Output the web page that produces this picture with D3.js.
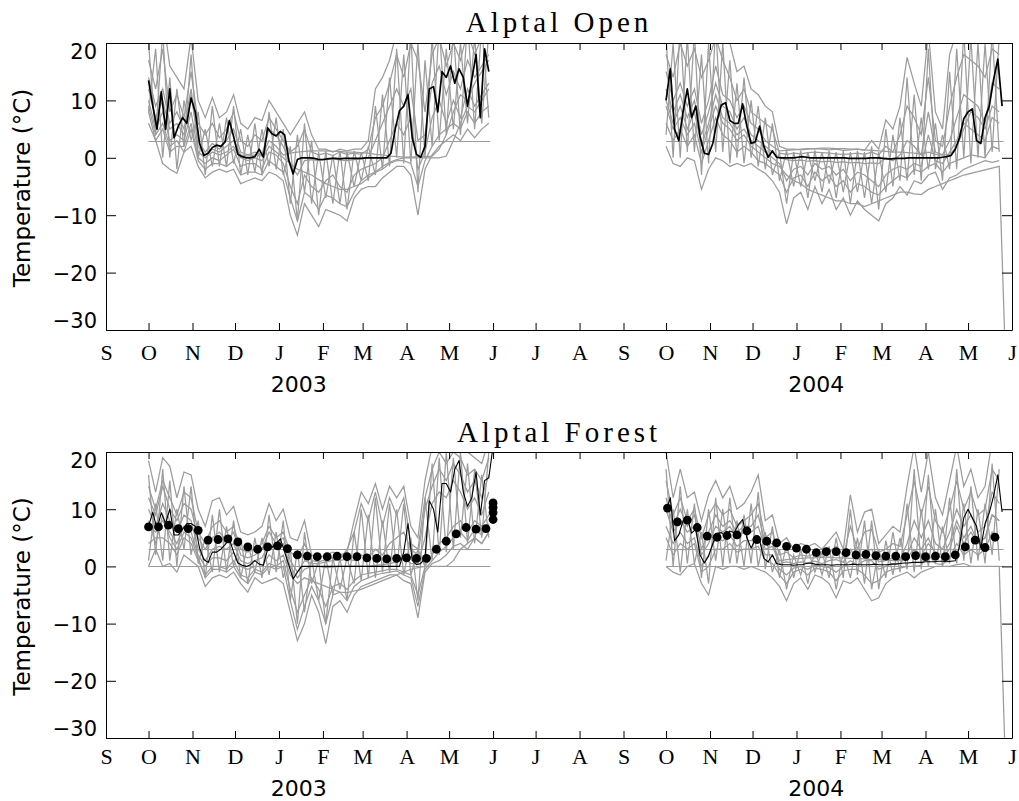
<!DOCTYPE html>
<meta charset="utf-8">
<script src="https://d3js.org/d3.v7.min.js"></script>
<style>
  body { margin: 0; background: #fff; }
  .num { font-family: "DejaVu Sans", sans-serif; }
  .month { font-family: "Liberation Serif", serif; }
</style>
<div id="chart"></div>
<script>

// ---------------- data ----------------
var monthLabels = ["S","O","N","D","J","F","M","A","M","J","J","A","S","O","N","D","J","F","M","A","M","J"];
var yTickValues = [-30, -20, -10, 0, 10, 20];
var yearLabels = ["2003", "2004"];
var yearCentres = ["2003-01-15", "2004-01-15"];
var seasonStarts = ["2002-10-01", "2003-10-01"];
var seasonEnds = ["2003-05-30", "2004-05-26"];
var openThresholds = [3];
var forestThresholds = [0, 3];
var meanStep = 3, grayStep = 5, dotStep = 7;   // days between samples

// black line: mean temperature, one value every 3 days
var openMean2003 = [13.5,9,5,11.5,5,12,3.5,5.5,7,6,
  10.4,8,2.5,0.4,0.8,1.8,2.2,2,2.8,6.5,
  3.7,0.6,0.2,0,0,0.2,1.5,0.1,5.2,4.2,
  3.8,4.6,4,-0.5,-2.8,-0.3,0,0,0,-0.1,
  -0.3,-0.3,-0.2,-0.1,-0.1,-0.2,-0.1,-0.1,-0.1,-0.1,
  -0.1,0,0,0,0,0,0,0.8,5,8.2,
  9,11,3.5,0.6,0.1,2,12,12.4,8,15,
  14,16,13,15.5,14,9,13.6,18,7,19,15];
var openMean2004 = [10,15.5,5,3,8,12,7,9,3.7,0.8,
  0.6,2.5,6.5,9.2,9.6,6.5,6,6,9.4,5.5,
  2.5,2.8,5.5,2,0.1,1.2,0.1,0,0,0,
  0,0.1,0.2,0.1,0,0,0,0,0,0,
  0,0,0,-0.1,-0.1,-0.1,-0.1,-0.1,0,0,
  0,-0.1,-0.2,-0.2,-0.1,-0.1,-0.1,0,0,0,
  0,0,0,0,0,0.1,0.2,0.4,1.5,3.5,
  6.8,8,8.5,3,2.5,7,9,13.6,17.2,9];
var forestMean2003 = [7,9.5,6.5,9.4,7.5,10,5.5,5.5,6.5,7.5,
  7.5,7,3.2,1.2,0.7,2.5,2.5,3,3.8,4.8,
  2.5,0.6,0.2,0,0.3,1,0.4,0.2,3,3.3,
  4,4.8,2.5,0.2,-2.2,-1,0,0,0,0,
  0,0,0,0,0,0,0,0,0,0,
  0,0,0,0,0,0,0,0,0,0,
  2.5,7.5,1,0.3,0.5,1.5,11.5,10,6,14.5,
  14.5,13,17,18.5,13,10.5,12,16.5,9,15,15.5,21];
var forestMean2004 = [9.5,12,4.5,5.5,8,8.5,5.8,6.5,2,0.6,
  1.8,4,5.8,5.9,5.2,6.2,5.9,7.3,8.2,5,
  3.2,4.7,4.5,1.4,0.8,2,0.5,0.3,0.3,0.3,
  0.2,0.3,0.3,0.5,0.6,0.4,0.3,0.3,0.3,0.2,
  0.3,0.3,0.3,0.3,0.4,0.3,0.3,0.3,0.3,0.4,
  0.3,0.3,0.3,0.4,0.4,0.5,0.6,0.6,0.7,0.7,
  0.7,0.8,0.8,0.8,0.9,0.9,0.8,0.9,1,3.5,
  8.5,10,8.5,7,3.2,7.5,9.4,12.3,16,9.5];

// grey lines: individual sensors, one value every 5 days
var openGray2003 = [
  [24,22,25,16,14,12,21,10,7,10.5,7,8,11,6,5,7,6.5,10,8,6,4,6,8,4,1.5,1.5,1,1.5,1.2,1.5,1.5,3,12,14,17,22,21,25,23,20,24,26,22,25,23,27,24,26,25],
  [17,12,19,8,11,7,15,6,4,6,3.5,5,8,3,2,4,3,7,5,3,1,2,5,1,0.5,0.8,0.4,1,0.6,0.8,0.6,1.5,7,9,13,18,14,20,17,8,18,21,16,20,17,22,18,21,20],
  [12,7,10,5,6,4,11,3,1,2.5,1.5,3,5,1,0.5,1,0.5,5,4,2,-1,-3,-0.5,-0.3,-0.5,-0.3,-0.2,-0.4,-0.5,-0.3,-0.2,0,3,6,9,12,9,12,3,4,13,16,11,15,12,17,14,16,18],
  [8,3,5,1,2,2,6,0,-1,0,-0.5,0.5,1.5,-1.5,-1,-1,-2,1,0.5,-1,-5,-8,-3,-5,-6,-4,-3,-5,-6,-3,-2,-1.5,-1,0,3,6,4,7,-2,1,7,10,6,10,7,12,9,11,13],
  [6,3,-1,-2,-2.7,1,2,-1.5,-3.5,-2.5,-2,-2.5,-2,-4.5,-4,-3.5,-4,-2.5,-3,-4,-10,-13.5,-8,-10,-12,-9,-9.5,-10,-11,-7,-5.5,-5,-5,-3.5,-2.5,-1.5,-1.5,-3,-10,-2,0.5,2,3,4,3,5,3.5,5,6],
  [10,5,8,3,4,3,8,1,0,1,0.5,1,2,0,-0.5,0,-0.5,2,1,0,-1,-2,-2.5,-3,-3.8,-4.5,-5,-5.5,-5.5,-5,-4.5,-3.5,-2.5,-1.5,-0.8,-0.3,0,0,0,0,0,0,0.3,3,6,9,8,10,12],
  [14,9,12,6,8,5,12,2,0.5,1.5,1,2,3,0.5,0.3,0.5,0.3,3,2,0.5,0.8,1,1.1,1.2,1.2,1.2,1.1,1.1,1,1,0.9,0.8,0.6,0.5,0.3,0.2,0.1,0.1,0.2,0.2,0.3,1.5,4,8,11,10,13,15,17],
  [9,4,6,2,3,1,5,-0.5,-2,-1,-1,-1.5,-0.5,-3,-2.5,-2.5,-3,-0.5,-1.5,-2.5,-7,-11,-6,-7,-9,-6.5,-7,-8,-8.5,-6,-4,-3,-2.5,-2,-1,-0.5,-0.5,-1,-5,-0.5,2,4,5,6,5,8,6,8,9],
  [20,4,22,0,12,2,18,0,5,-1.5,6,-1.5,9,-3,4,-2.5,5,-1.5,7,-3,2,-11,6,-8,1,-7,0.5,-8,1,-5,1,-4,9,-2,14,0,18,-1,20,0,21,3,19,5,20,6,21,6,22],
  [8,19,0,14,-2,10,3,8,-3,9,-1.5,7,-1,5,-3,6,-3,8,-2,5,-8,4,-6,3,-10,1.2,-8,1.2,-9,1.2,-4,2,-3,11,-1.5,19,-1,22,-6,17,2,23,4,22,4,24,5,23,7]
];
var openGray2004 = [
  [24,22,26,23,25,21,24,26,23,20,15,16,12,11,9,8,2,1.5,1.5,1.4,1.5,1.6,1.5,1.4,1.5,1.3,1.4,1.5,1.3,3,1.5,6.6,5,9,17.5,13,9,22,8,5,18,22,25,24,23,22,25,24],
  [18,14,20,16,19,14,17,21,17,14,10,12,8,7,6,5,0.8,0.6,0.8,0.7,0.9,1,0.9,0.8,0.7,0.6,0.7,0.8,0.6,1,0.5,2,1,4,9,7,4,14,3,2,9,14,18,17,16,14,19,18],
  [12,8,11,7,10,4,8,13,9,8,5,7,4,3,2,1,0,-0.3,-0.5,-0.4,-0.6,-0.5,-0.7,-0.6,-0.8,-0.7,-0.9,-0.8,-1,-0.9,-1,0,-0.5,0.5,3,2,0.5,8,1,0.5,3,7,11,10,9,6,13,12],
  [6,3,5,2,4,-1,3,7,4,3,1,2,1,-0.5,-1,-2,-3,-6,-3.5,-3,-5,-2.5,-4,-3,-5,-4,-6,-4.5,-5,-6,-6.5,-5,-4,-3,-3.5,-2,-2.5,-1.5,-1,-2.5,-1,-0.5,0,0.5,0.3,0,2,1.5],
  [2,-1,-1.5,0,-0.5,-5.5,-2,0,-0.5,-1.5,-1,-1.5,-1,-2,-2.7,-4,-6,-11.5,-7,-6,-9,-5,-8,-5.5,-9,-7,-10,-7.5,-9,-10,-11,-8,-7,-5,-6.5,-4,-4.5,-3,-2.5,-5.5,-3.5,-3,-2,-1.5,-1,-0.5,-0.8,-0.5],
  [15,10,13,9,12,6,10,16,11,10,7,9,6,5,3,2,1.2,1.3,1.4,1.5,1.6,1.6,1.7,1.7,1.6,1.6,1.5,1.5,1.4,1.3,1.2,1.1,1,1,0.9,0.8,0.7,1,0.6,0.5,0.5,2,5,8,7,5,9,8],
  [9,5,7,4,6,1,5,9,6,5,3,4,2,1,0,-1,-1.5,-3,-4,-4.5,-5.5,-6,-6.5,-7,-7.5,-7.5,-8,-8,-8.5,-8,-7.5,-7,-6.5,-6,-6,-6.3,-6.4,-5.5,-5,-4.5,-4,-3.5,-3,-2.7,-2.4,-2.1,-1.8,-1.5,-40],
  [10,6,9,5,8,2,6,11,7,6,4,5,3,2,1,0,-1,-4,-2,-1.5,-3,-1,-2,-1.5,-3,-2,-4,-2.5,-3,-4,-5,-3,-2,-1.5,-2,-1,-1.5,4,-0.5,-1,1,3,6,5,4,3,7,6],
  [21,0,23,1,22,-3,20,1,20,-1,13,-1,10,-1.5,7,-3,1,-8,1,-5,1,-4,1,-4.5,1,-6,1,-6,1,-8,1,-6,4,-4,14,-3,7,-2,6,-4,15,-2,22,-1,20,0,22,1],
  [4,20,0,21,1,18,-1,23,1,17,0,14,0,9,-2,6,-4,1.2,-5,1.2,-7,1.3,-6,1.2,-7,1.2,-8,1.2,-7,2,-9,5,-5,7,-4,11,-4,19,-2,4,-2,19,0,21,0,20,1,21]
];
var forestGray2003 = [
  [18.5,13,19,17.5,12,16.5,16,10,7,11.5,12,9,10.5,6,5.5,6,7,11,8,10,5,4.5,8,2,1.5,2,2.5,2,2.5,8,13,11,14.5,10,14,12,14,7,5,15,21,22,23,21,22,20,19,18,22],
  [14,10,15,12,9,13,12,6,4,7,8,6,7,3,2.5,3,4,7,5,6,2.5,1.5,4,1,0.8,1.2,1.5,1,1.3,1,2,1.5,3,2,4,5,6,3,2,10,14,17,15,18,16,13,15,12,16],
  [10,7,11,8,6,9,8,3,1,3,3.5,3,4,1,0.5,1,1.5,4,3,4,0,-2,-0.5,0,0,-0.2,-0.1,0,0,0,0,0,0.2,0.3,0.5,0.8,1.5,0.5,0.5,5,11,13,12,15,13,10,12,9,13],
  [4,5,5,4,2,5,4,1,-1.5,0,0,-0.5,1,-1.5,-2,-0.5,-1,0.5,0,1,-4,-8,-5,-2,-4,-7,-3.5,-3,-4,-2.5,-1.5,-1.2,-1,-0.8,-0.5,-0.5,-1,-1.5,-5,0,2,4,5,7,8,6,8,7,9],
  [0,3,0,0.5,-1,2,1,0,-3.5,-2,-1.5,-2,-1,-3,-4.5,-2,-3,-2.5,-2,-3,-8,-13,-10,-5,-8,-13.5,-7,-6,-8,-5,-3.5,-3,-2.5,-2,-1.5,-1.5,-2.5,-3,-9,-1,0.5,1,2,3.5,4,3,5,4,6],
  [7,6,8,6,4,7,6,2,0,1.5,1.5,1,2.5,0,-0.5,0,0,2,1,2,-1.5,-3,-2,-2.5,-3,-3.5,-4,-4.5,-4.6,-4.3,-4,-3.5,-3,-2.5,-2,-1.5,-1,-0.5,-0.2,0,0,0,0,1,3,4,5,4,6],
  [12,9,14,10,8,11,10,5,3,5,6,4.5,6,2,1.5,2,3,6,4,5,1,-1,1,0.5,0.5,0.8,1,1.2,3,6,11,8,13,7,12,9,12,4,3,12,17,20,18,20,19,16,17,15,19],
  [8,4,9,5,3,6,5,1.5,-2,-0.5,-0.5,-1,0,-2,-3,-1,-1.5,0,-0.5,0,-6,-11,-7,-3.5,-6,-10,-5,-4.5,-6,-3.5,-2.5,-2,-1.5,-1.2,-1,-0.8,-1.5,-2,-7,-0.5,1,2.5,3.5,5,6,4.5,6.5,5.5,7.5],
  [16,2,17,1,10,3,14,0.5,5,-1,10,-1,8,-2,4,-1,5,-1.5,6,-2,3,-10,6,-3,1,-10,1.5,-4,1.5,-3,10,-2,12,-1,11,-0.5,11,-1.5,3,0,18,2,20,3,20,4,17,5,20],
  [1,11,1,15,0,14,2,8,-2,9,-1,7,0,5,-3,5,-2,9,-1,8,-6,3,-8,1.5,-6,1.5,-5,1.5,-6,6,-2.5,9,-2,8,-1,10,-1.5,5,-6,12,1,19,2.5,19,5,18,4,16,5]
];
var forestGray2004 = [
  [20,12,17,12,13,8,12.5,15,12,14,10,11,13,16,8,9,4,5,3,4,3.5,4,3,4.5,6,3,12.5,6,9.5,10,4,5.5,7,6,14,21,13,20,12,9,15,21,14,17,12,14,22,20],
  [15,9,12,8,10,5,9,11,9,10,7,8,9,11,5,6,2,2.5,1.5,2,1.8,2.2,1.5,2.5,3.5,1.8,7,3,6,6.5,2.5,3,4,3.5,9,15,9,14,8,6,10,15,10,13,9,10,17,15],
  [10,6,8,6,7,2,4,7,6,7,5,6,6,7,3,3.5,0.5,0.8,0.5,0.8,0.6,0.9,0.5,1,1.2,0.7,3,1.2,2.5,3,0.8,1,1.5,1.2,4,8,5,8,4,3,6,10,7,9,6,7,13,11],
  [5,2,4,3,4,-1,0,3,3,4,2.5,3,3,3.5,1,0.5,-1.5,-3,-1,-0.5,-1.5,-0.3,-0.5,-1,-2.5,-0.8,-0.5,-0.5,-1.5,-3,-2.5,-1,-0.5,-0.3,0,0,0.2,2,0.5,0.3,1.5,4,2,3,2,3,6,5],
  [0,-1,-1.5,0,0.5,-3,-5,0,-0.5,0,0,-0.5,0,-0.5,-1,-2,-3.5,-6,-3,-2,-4,-1.5,-2,-3,-5.5,-2.5,-3,-2,-4,-6,-5.5,-3,-2,-1.5,-1,-2,-1,-0.5,0,0,0,0.3,0.5,0,0,0,0,0,-40],
  [12,7,10,7,9,3,6,9,7,8,6,7,7,9,4,4,1,1.2,1.3,1.4,1.5,1.5,1.6,1.6,1.5,1.5,1.4,1.4,1.3,1.2,1.2,1.1,1,1,1.5,3,2,4,2.5,2,4,8,5,7,4,5,9,8],
  [7,4,6,4,5,0,2,5,4.5,5.5,3.5,4.5,4.5,5,2,2,-0.5,-1.5,-0.3,0,-0.5,0.2,0,-0.2,-1,0,1,0.3,1,1,-0.5,0,0.5,0.5,2,5,3,5,2,1.5,3,7,4,6,4,5,9,8],
  [17,0,14,0.5,11,-2,10,1,10,0.5,8,0,11,0,6,-1,3,-4,2,-1.5,3,-1,2.5,-2,5,-2,10,-1.5,8,-4,3,-2,6,-1,11,-1,10,0,10,0,12,0.5,11,0.5,10,0.5,18,1],
  [1,10,-1,10,0.5,6,-3,12,0,12,0.5,9,0.5,13,-0.5,7,-2,4,-2,3,-3,3,-1.5,3.5,-4,2.5,-2,5,-3,8,-4,4.5,-1.5,5,-0.5,17,-0.5,16,0.5,7,0.5,17,1,14,1,11,2,17]
];

// dots: weekly values in the forest
var forestDotStarts = ["2002-10-01", "2003-10-02"];
var forestDots2003 = [6.9,6.9,7.2,6.6,6.6,6.3,4.6,4.7,4.8,4.3,
  3.4,3.0,3.4,3.6,3.1,2.0,1.8,1.7,1.7,1.8,
  1.7,1.7,1.5,1.4,1.3,1.4,1.5,1.4,1.4,3.0,
  4.4,5.7,6.8,6.5,6.6];
var forestDots2004 = [10.2,7.8,8.1,6.8,5.3,5.1,5.4,5.5,6.2,4.7,
  4.4,4.1,3.5,3.2,3.0,2.4,2.6,2.6,2.4,2.0,
  2.1,1.9,1.8,1.8,1.7,1.9,1.7,1.8,1.7,2.0,
  3.4,4.6,3.3,5.1];
var forestDotsExtraDate = "2003-06-01";
var forestDotsExtra = [11.1, 10.3, 9.4, 8.2];

// ---------------- drawing ----------------
var width = 1019, height = 801;
var left = 106, right = 1012;
var parse = d3.utcParse("%Y-%m-%d");

var x = d3.scaleUtc()
  .domain([parse("2002-09-01"), parse("2004-06-01")])
  .range([left, right]);

var monthTicks = d3.utcMonth.range(parse("2002-09-01"), parse("2004-06-02"));

var svg = d3.select("#chart").append("svg")
  .attr("width", width)
  .attr("height", height);

var panels = [
  {title: "Alptal Open", top: 43, bottom: 330, titleY: 32, monthY: 30, yearY: 62,
   gray: [openGray2003, openGray2004], mean: [openMean2003, openMean2004],
   thresholds: openThresholds, meanWidth: 1.7, dots: null},
  {title: "Alptal Forest", top: 452, bottom: 738, titleY: 442, monthY: 26, yearY: 58,
   gray: [forestGray2003, forestGray2004], mean: [forestMean2003, forestMean2004],
   thresholds: forestThresholds, meanWidth: 1.1,
   dots: [forestDots2003, forestDots2004]}
];

function seriesLine(y, start, step) {
  return d3.line()
    .x(function(d, i) { return x(d3.utcDay.offset(start, i * step)); })
    .y(function(d) { return y(d); });
}

panels.forEach(function(p, idx) {
  var y = d3.scaleLinear().domain([-30, 20]).range([p.bottom, p.top]);

  svg.append("clipPath").attr("id", "clip" + idx)
    .append("rect")
    .attr("x", left).attr("y", p.top)
    .attr("width", right - left).attr("height", p.bottom - p.top);

  var plot = svg.append("g").attr("clip-path", "url(#clip" + idx + ")");

  // grey sensor lines
  p.gray.forEach(function(season, s) {
    var start = parse(seasonStarts[s]);
    plot.append("g").selectAll("path")
      .data(season)
      .join("path")
      .attr("d", function(d) { return seriesLine(y, start, grayStep)(d); })
      .attr("fill", "none")
      .attr("stroke", "#9c9c9c")
      .attr("stroke-width", 1.25);
  });

  // threshold lines
  p.thresholds.forEach(function(t) {
    seasonStarts.forEach(function(st, s) {
      plot.append("line")
        .attr("x1", x(parse(st))).attr("x2", x(parse(seasonEnds[s])))
        .attr("y1", Math.round(y(t)) + 0.5).attr("y2", Math.round(y(t)) + 0.5)
        .attr("stroke", "#9c9c9c")
        .attr("stroke-width", 1);
    });
  });

  // mean line
  p.mean.forEach(function(series, s) {
    plot.append("path")
      .attr("d", seriesLine(y, parse(seasonStarts[s]), meanStep)(series))
      .attr("fill", "none")
      .attr("stroke", "#000")
      .attr("stroke-width", p.meanWidth)
      .attr("stroke-linejoin", "round");
  });

  // dots
  if (p.dots) {
    p.dots.forEach(function(series, s) {
      var start = parse(forestDotStarts[s]);
      plot.append("g").selectAll("circle")
        .data(series)
        .join("circle")
        .attr("cx", function(d, i) { return x(d3.utcDay.offset(start, i * dotStep)); })
        .attr("cy", function(d) { return y(d); })
        .attr("r", 4.4)
        .attr("fill", "#000");
    });
    plot.append("g").selectAll("circle")
      .data(forestDotsExtra)
      .join("circle")
      .attr("cx", x(parse(forestDotsExtraDate)))
      .attr("cy", function(d) { return y(d); })
      .attr("r", 4.4)
      .attr("fill", "#000");
  }

  // axes
  var bottomAxis = svg.append("g")
    .attr("transform", "translate(0," + p.bottom + ")")
    .call(d3.axisBottom(x).tickValues(monthTicks).tickSize(-7).tickSizeOuter(0)
      .tickFormat(function(d, i) { return monthLabels[i]; }));
  bottomAxis.selectAll("text")
    .attr("class", "month")
    .attr("y", p.monthY).attr("dy", null)
    .style("font-size", "22px").attr("fill", "#000");

  svg.append("g")
    .attr("transform", "translate(0," + p.top + ")")
    .call(d3.axisTop(x).tickValues(monthTicks).tickSize(-7).tickSizeOuter(0).tickFormat(""));

  var leftAxis = svg.append("g")
    .attr("transform", "translate(" + left + ",0)")
    .call(d3.axisLeft(y).tickValues(yTickValues).tickSize(-10).tickSizeOuter(0)
      .tickFormat(function(d) { return d < 0 ? "\u2212" + Math.abs(d) : d; }));
  leftAxis.selectAll("text")
    .attr("class", "num")
    .attr("x", -9)
    .attr("dy", function(d) { return d === 20 ? 15 : (d === -30 ? -3 : 8); })
    .style("font-size", "21px").attr("fill", "#000");

  svg.append("g")
    .attr("transform", "translate(" + right + ",0)")
    .call(d3.axisRight(y).tickValues(yTickValues).tickSize(-10).tickSizeOuter(0).tickFormat(""));

  svg.selectAll(".domain").attr("stroke", "#000");
  svg.selectAll(".tick line").attr("stroke", "#000");

  // year labels
  svg.append("g").selectAll("text")
    .data(yearLabels)
    .join("text")
    .attr("class", "num")
    .attr("x", function(d, i) { return x(parse(yearCentres[i])); })
    .attr("y", p.bottom + p.yearY)
    .attr("text-anchor", "middle")
    .style("font-size", "22px")
    .text(function(d) { return d; });

  // y-axis title
  svg.append("text")
    .attr("class", "num")
    .attr("transform", "translate(30," + ((p.top + p.bottom) / 2 + 1.5) + ") rotate(-90)")
    .attr("text-anchor", "middle")
    .style("font-size", "23px")
    .text("Temperature (\u00B0C)");

  // panel title
  svg.append("text")
    .attr("class", "month")
    .attr("x", 559)
    .attr("y", p.titleY)
    .attr("text-anchor", "middle")
    .style("font-size", "29px")
    .style("letter-spacing", "4px")
    .text(p.title);
});

</script>
